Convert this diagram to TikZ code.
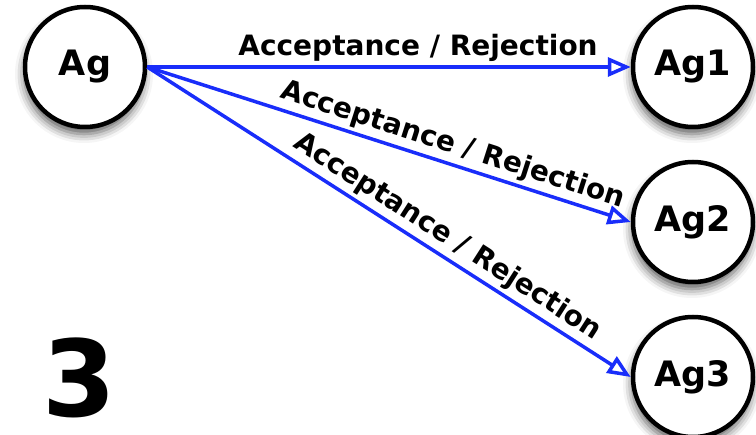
\documentclass[tikz,border=0pt]{standalone}
\usepackage{fontspec}
\setmainfont{DejaVu Sans}
\usetikzlibrary{arrows.meta,shadows.blur}
\definecolor{edgeblue}{RGB}{25,45,250}
\begin{document}
\begin{tikzpicture}[x=1pt,y=-1pt,
  agent/.style={circle,draw=black,line width=4.5pt,fill=white,minimum size=120pt,inner sep=0pt,
    font=\fontsize{35}{40}\selectfont\bfseries,
    blur shadow={shadow xshift=-1pt,shadow yshift=-7pt,shadow blur radius=9pt,shadow opacity=65}},
  link/.style={draw=edgeblue,line width=3.5pt,-{Triangle[open,length=23pt,width=19pt,line width=3.5pt]}},
  lab/.style={font=\fontsize{28}{30}\selectfont\bfseries,text=black,inner sep=3.5pt,sloped,above}]
\useasboundingbox (0,0) rectangle (756,435);
\node[agent] (ag) at (85,67) {Ag};
\node[agent] (ag1) at (693,67) {Ag1};
\node[agent] (ag2) at (693,222) {Ag2};
\node[agent] (ag3) at (693,377) {Ag3};
\node[font=\fontsize{106}{108}\selectfont\bfseries,inner sep=0pt] (three) at (79,378) {3};
\draw[link] (ag.east) -- node[lab,pos=0.56] {Acceptance / Rejection} (ag1.west);
\draw[link] (ag.east) -- node[lab,pos=0.62] {Acceptance / Rejection} (ag2.west);
\draw[link] (ag.east) -- node[lab,pos=0.60] {Acceptance / Rejection} (ag3.west);
\end{tikzpicture}
\end{document}
